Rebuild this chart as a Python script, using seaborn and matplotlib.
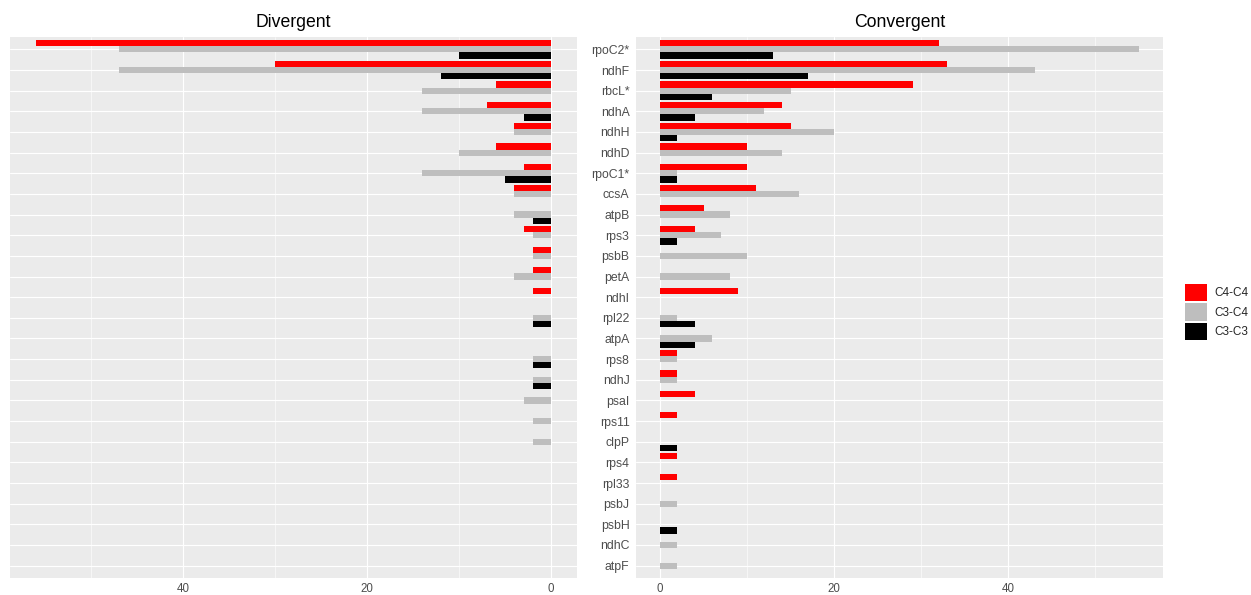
import numpy as np
import pandas as pd
import matplotlib
matplotlib.use("Agg")
import matplotlib.pyplot as plt
import seaborn as sns
from matplotlib.patches import Patch
from matplotlib.ticker import FixedLocator

# --- DATA ---
genes = ["rpoC2*", "ndhF", "rbcL*", "ndhA", "ndhH", "ndhD", "rpoC1*", "ccsA",
         "atpB", "rps3", "psbB", "petA", "ndhI", "rpl22", "atpA", "rps8",
         "ndhJ", "psaI", "rps11", "clpP", "rps4", "rpl33", "psbJ", "psbH",
         "ndhC", "atpF"]
pair_types = ["C4-C4", "C3-C4", "C3-C3"]

div_c4c4 = [56, 30, 6, 7, 4, 6, 3, 4, 0, 3, 2, 2, 2, 0, 0, 0, 0, 0, 0, 0, 0, 0, 0, 0, 0, 0]
div_c3c4 = [47, 47, 14, 14, 4, 10, 14, 4, 4, 2, 2, 4, 0, 2, 0, 2, 2, 3, 2, 2, 0, 0, 0, 0, 0, 0]
div_c3c3 = [10, 12, 0, 3, 0, 0, 5, 0, 2, 0, 0, 0, 0, 2, 0, 2, 2, 0, 0, 0, 0, 0, 0, 0, 0, 0]

conv_c4c4 = [32, 33, 29, 14, 15, 10, 10, 11, 5, 4, 0, 0, 9, 0, 0, 2, 2, 4, 2, 0, 2, 2, 0, 0, 0, 0]
conv_c3c4 = [55, 43, 15, 12, 20, 14, 2, 16, 8, 7, 10, 8, 0, 2, 6, 2, 2, 0, 0, 0, 0, 0, 2, 0, 2, 2]
conv_c3c3 = [13, 17, 6, 4, 2, 0, 2, 0, 0, 2, 0, 0, 0, 4, 4, 0, 0, 0, 0, 2, 0, 0, 0, 2, 0, 0]

colors = {"C4-C4": "#FF0000", "C3-C4": "#BEBEBE", "C3-C3": "#000000"}


def long_form(c4c4, c3c4, c3c3):
    parts = []
    for name, vals in zip(pair_types, [c4c4, c3c4, c3c3]):
        parts.append(pd.DataFrame({"gene": genes, "type": name, "count": vals}))
    return pd.concat(parts, ignore_index=True)


div_df = long_form(div_c4c4, div_c3c4, div_c3c3)
conv_df = long_form(conv_c4c4, conv_c3c4, conv_c3c3)

# --- STYLE ---
sns.set_theme(style="darkgrid", rc={"axes.facecolor": "#EBEBEB", "grid.color": "white"})
plt.rcParams["font.family"] = ["Liberation Sans", "DejaVu Sans"]

W, H = 1251, 595
fig = plt.figure(figsize=(W / 100, H / 100), dpi=100)
fig.patch.set_facecolor("white")


def px_axes(x0, x1, y0, y1):
    return fig.add_axes([x0 / W, 1 - y1 / H, (x1 - x0) / W, (y1 - y0) / H])


ax_div = px_axes(10, 577, 37, 578)
ax_conv = px_axes(636, 1163, 37, 578)

for ax, df, title in [(ax_div, div_df, "Divergent"), (ax_conv, conv_df, "Convergent")]:
    sns.barplot(data=df, x="count", y="gene", hue="type", hue_order=pair_types,
                order=genes, palette=colors, orient="h", width=0.9,
                saturation=1, linewidth=0, errorbar=None, legend=False, ax=ax)
    ax.set_title(title, fontsize=12.7, color="black", pad=7)
    ax.set_xlabel("")
    ax.set_ylabel("")
    ax.set_ylim(len(genes) - 0.4, -0.6)
    ax.set_xticks([0, 20, 40])
    ax.grid(True, which="major", color="white", lw=0.8)
    ax.grid(True, which="minor", axis="x", color="white", lw=0.4)
    ax.set_axisbelow(True)
    for s in ax.spines.values():
        s.set_visible(False)
    ax.tick_params(axis="x", which="major", length=2.7, width=0.8, color="#333333",
                   labelsize=8.3, labelcolor="#4D4D4D", pad=1.2)
    ax.tick_params(axis="x", which="minor", length=0)

# left panel: reversed axis, no gene labels
ax_div.set_xlim(58.8, -2.8)
ax_div.xaxis.set_minor_locator(FixedLocator([10, 30, 50]))
ax_div.tick_params(axis="y", length=0, labelleft=False)

# right panel
ax_conv.set_xlim(-2.75, 57.75)
ax_conv.xaxis.set_minor_locator(FixedLocator([10, 30, 50]))
ax_conv.tick_params(axis="y", length=2.7, width=0.8, color="#333333",
                    labelsize=8.8, labelcolor="#4D4D4D", pad=2)

handles = [Patch(facecolor=colors[t], edgecolor="none", label=t) for t in pair_types]
fig.legend(handles=handles, loc="center left", bbox_to_anchor=(1185 / W, 1 - 312 / H),
           frameon=False, fontsize=8.45, handlelength=1.9, handleheight=1.9,
           labelspacing=0.17, handletextpad=0.6, borderpad=0, borderaxespad=0)

fig.savefig("out.png", dpi=100, facecolor="white")
